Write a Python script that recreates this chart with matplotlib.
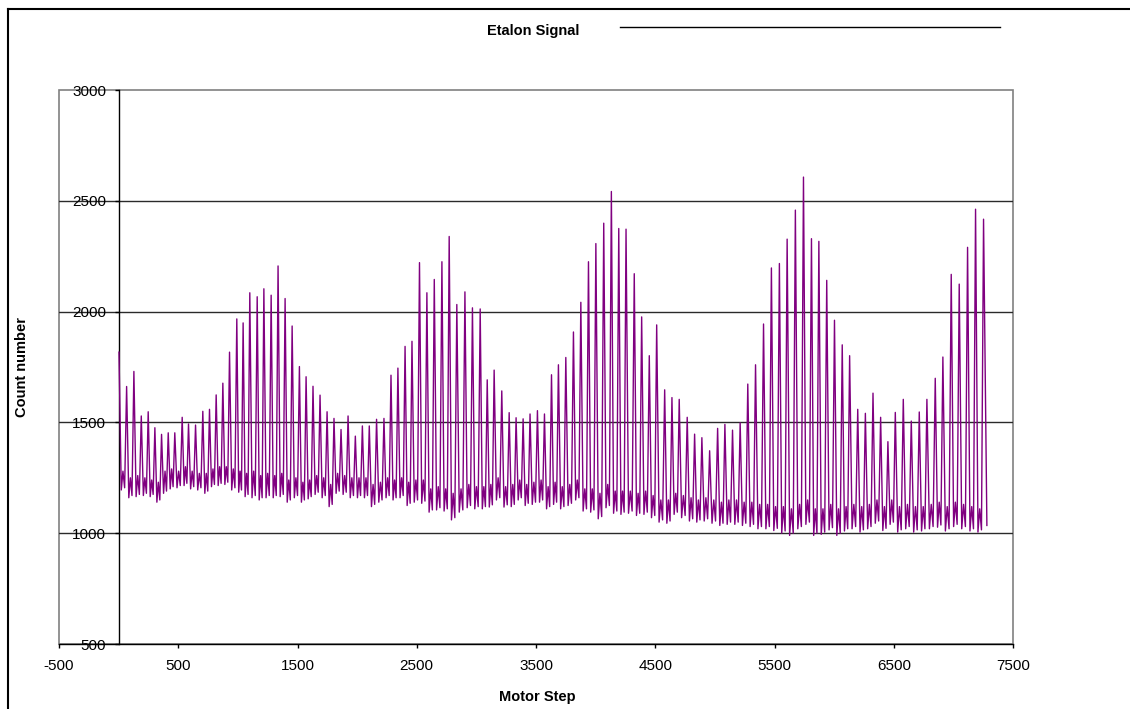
import numpy as np
import matplotlib
matplotlib.use("Agg")
import matplotlib.pyplot as plt
from matplotlib.lines import Line2D
from matplotlib.patches import Rectangle

plt.rcParams['font.family'] = ['Liberation Sans', 'DejaVu Sans']
plt.rcParams['axes.unicode_minus'] = False

# peak positions (motor step) and peak counts
peak_steps = [3, 67, 128, 190, 248, 304, 360, 416, 471, 533, 586, 645, 706, 762, 818, 874,
              930, 991, 1044, 1100, 1162, 1218,
              1279, 1337, 1396, 1455, 1516, 1572, 1630, 1689, 1748, 1806, 1865, 1924, 1985,
              2044, 2102, 2163, 2225, 2284, 2342, 2402,
              2460, 2523, 2585, 2647, 2711, 2772, 2836, 2904, 2967, 3032, 3091, 3149, 3213,
              3275, 3333, 3392, 3450, 3512, 3571, 3630,
              3688, 3750, 3814, 3876, 3940, 4002, 4068, 4132, 4194, 4255, 4324, 4386, 4450,
              4512, 4579, 4640, 4701, 4768, 4830, 4891, 4956, 5023, 5084, 5148, 5212, 5276,
              5341, 5408, 5474,
              5541, 5606, 5675, 5743, 5810, 5872, 5938, 6003, 6068, 6130,
              6198, 6262, 6326, 6390, 6451, 6513, 6580, 6647, 6714, 6778, 6848, 6912, 6982,
              7049, 7119, 7186, 7253]
peak_vals = [1817, 1662, 1730, 1529, 1548, 1476, 1446, 1453, 1453, 1523, 1493, 1488, 1550,
             1559, 1624, 1677, 1817, 1967, 1949, 2085, 2067, 2103,
             2074, 2206, 2059, 1935, 1752, 1706, 1663, 1623, 1548, 1518, 1468, 1529, 1438,
             1484, 1484, 1514, 1518, 1713, 1745, 1843,
             1866, 2221, 2085, 2145, 2225, 2339, 2032, 2089, 2017, 2012, 1692, 1736, 1642,
             1544, 1521, 1516, 1538, 1553, 1538, 1715,
             1760, 1793, 1908, 2042, 2225, 2307, 2399, 2542, 2375, 2372, 2171, 1976, 1801,
             1940, 1647, 1612, 1604, 1523, 1447, 1431, 1372, 1473, 1491, 1465, 1498, 1673,
             1760, 1944, 2197,
             2217, 2327, 2458, 2607, 2329, 2317, 2141, 1961, 1850, 1801,
             1559, 1541, 1632, 1523, 1413, 1545, 1604, 1506, 1547, 1604, 1699, 1795, 2168,
             2124, 2290, 2462, 2417]
# trough after each peak
low_vals = [1195, 1160, 1165, 1170, 1165, 1140, 1180, 1200, 1205, 1215, 1200, 1195, 1180,
            1210, 1215, 1220, 1195, 1185, 1165, 1160, 1150, 1160,
            1160, 1165, 1140, 1160, 1140, 1155, 1175, 1160, 1120, 1180, 1175, 1160, 1160,
            1160, 1120, 1140, 1160, 1150, 1160, 1125,
            1140, 1135, 1095, 1105, 1100, 1060, 1095, 1115, 1110, 1110, 1118, 1150, 1118,
            1120, 1150, 1125, 1130, 1140, 1110, 1130,
            1110, 1125, 1150, 1100, 1095, 1065, 1115, 1090, 1085, 1090, 1080, 1085, 1070,
            1050, 1045, 1085, 1070, 1055, 1050, 1055, 1045, 1035, 1040, 1040, 1035, 1030,
            1020, 1020, 1012,
            1000, 990, 1020, 1040, 990, 995, 1015, 990, 1010, 1020,
            1005, 1020, 1045, 1012, 1040, 1005, 1020, 1005, 1010, 1020, 1027, 1010, 1030,
            1020, 1010, 1005]
# small secondary bump between peaks
bump_vals = [1280, 1250, 1260, 1250, 1240, 1230, 1280, 1290, 1280, 1300, 1280, 1270, 1270,
             1290, 1300, 1300, 1290, 1280, 1270, 1280, 1260, 1270,
             1260, 1270, 1240, 1250, 1230, 1240, 1260, 1250, 1220, 1270, 1260, 1250, 1250,
             1250, 1220, 1230, 1250, 1240, 1250, 1230,
             1240, 1240, 1200, 1210, 1200, 1180, 1200, 1220, 1210, 1210, 1220, 1250, 1210,
             1220, 1240, 1220, 1230, 1240, 1210, 1230,
             1210, 1220, 1240, 1200, 1200, 1180, 1220, 1190, 1190, 1190, 1180, 1190, 1170,
             1150, 1150, 1180, 1170, 1160, 1150, 1160, 1150, 1140, 1150, 1150, 1140, 1140,
             1130, 1130, 1120,
             1120, 1110, 1130, 1150, 1110, 1110, 1130, 1110, 1120, 1130,
             1120, 1130, 1150, 1120, 1150, 1120, 1130, 1120, 1120, 1130, 1140, 1120, 1140,
             1130, 1120, 1110]
end_step, end_val = 7281, 1035

# assemble the trace: peak -> trough -> bump -> trough -> next peak
xs, ys = [], []
for i in range(len(peak_steps) - 1):
    s0, s1 = peak_steps[i], peak_steps[i + 1]
    d = s1 - s0
    xs += [s0, s0 + 0.3 * d, s0 + 0.52 * d, s0 + 0.74 * d]
    ys += [peak_vals[i], low_vals[i], bump_vals[i], low_vals[i] + 10]
xs += [peak_steps[-1], end_step]
ys += [peak_vals[-1], end_val]

W, H = 1130, 709
fig = plt.figure(figsize=(W / 100, H / 100), dpi=100)
ax = fig.add_axes([59 / W, 65 / H, (1013 - 59) / W, (644 - 90) / H])

ax.plot(xs, ys, color='#800080', lw=1.0, zorder=3)

ax.set_xlim(-500, 7500)
ax.set_ylim(500, 3000)
ax.set_xticks(np.arange(-500, 7501, 1000))
ax.set_yticks(np.arange(500, 3001, 500))
for v in [1000, 1500, 2000, 2500]:
    ax.axhline(v, color='#2a2a2a', lw=1.0, zorder=1)

# plot area border
ax.add_patch(Rectangle((0, 0), 1, 1, transform=ax.transAxes, fill=False,
                       edgecolor='#808080', lw=1.2, zorder=0, clip_on=False))
ax.spines['top'].set_visible(False)
ax.spines['right'].set_visible(False)
ax.spines['left'].set_position(('data', 0))
ax.spines['left'].set_color('black')
ax.spines['bottom'].set_color('black')
ax.spines['left'].set_linewidth(1.0)
ax.spines['bottom'].set_linewidth(1.0)

ax.tick_params(axis='x', direction='out', length=3, width=1, pad=8, labelsize=11)
ax.tick_params(axis='y', direction='out', length=3, width=1, pad=6, labelsize=11)

fig.text(533 / W, 1 - 31 / H, 'Etalon Signal', ha='center', va='center',
         fontsize=10.5, fontweight='bold')
fig.text(537 / W, 1 - 697 / H, 'Motor Step', ha='center', va='center',
         fontsize=10.5, fontweight='bold')
fig.text(22 / W, 1 - 367 / H, 'Count number', ha='center', va='center',
         rotation=90, fontsize=10.5, fontweight='bold')

# legend line (no label text)
fig.add_artist(Line2D([620 / W, 1000 / W], [1 - 27 / H, 1 - 27 / H], color='black', lw=1.0))

# chart area border
fig.add_artist(Line2D([8 / W, 8 / W], [0, 1 - 9 / H], color='black', lw=1.5))
fig.add_artist(Line2D([8 / W, 1], [1 - 9 / H, 1 - 9 / H], color='black', lw=1.5))

fig.savefig('out.png', dpi=100)
